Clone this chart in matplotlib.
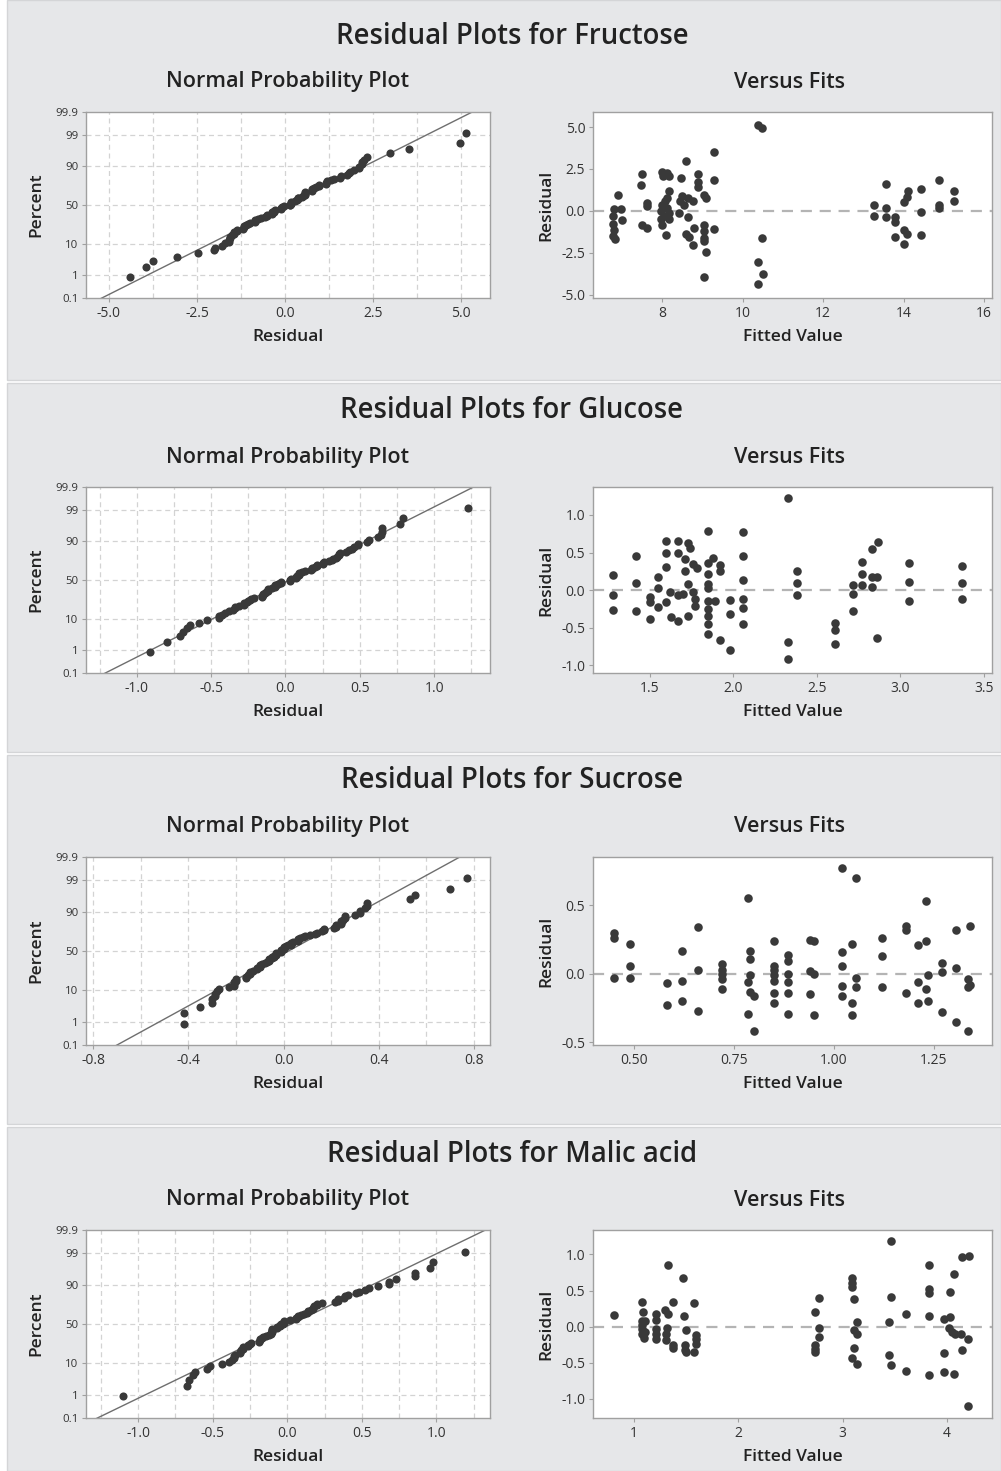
import numpy as np
import matplotlib.pyplot as plt
from matplotlib.patches import Rectangle
from statistics import NormalDist

plt.rcParams['font.family'] = ['Open Sans', 'DejaVu Sans']

# fitted values and residuals for each response
fru_fit = [6.89, 6.81, 6.97, 6.78, 6.99, 6.78, 6.81, 6.78, 6.82,
           7.5, 7.48, 7.62, 7.62, 7.5, 7.62,
           8.0, 8.13, 8.03, 8.17, 8.17, 8.13, 8.06, 8.0, 8.13, 7.96, 8.17, 8.04, 7.96, 8.17, 8.0, 8.1,
           8.46, 8.59, 8.5, 8.63, 8.45, 8.76, 8.55, 8.42, 8.63, 8.78, 8.59, 8.67, 8.76,
           8.88, 8.88, 8.88, 9.05, 9.09, 9.03, 9.05, 9.29, 9.05, 9.03, 9.08, 9.05, 9.29, 9.29,
           10.39, 10.48, 10.48, 10.39, 10.5, 10.39,
           13.27, 13.27, 13.57, 13.57, 13.57, 13.79, 13.79, 13.79, 14.0, 14.08, 14.1,
           14.0, 14.08, 14.0, 14.43, 14.43, 14.43, 14.87, 14.87, 14.87, 15.26, 15.26]
fru_res = [0.96, 0.14, 0.14, -0.31, -0.57, -0.77, -1.16, -1.5, -1.69,
           2.2, 1.56, 0.47, 0.28, -0.85, -1.04,
           2.34, 2.24, 2.1, 2.1, 1.16, 0.77, 0.57, 0.33, 0.18, -0.02, -0.12, -0.31, -0.51, -0.51, -0.85, -1.44,
           1.95, 2.99, 0.87, 0.77, 0.57, 0.57, 0.37, -0.12, -0.37, -1.0, -1.36, -1.56, -2.03,
           2.18, 1.75, 1.4, 0.96, 0.77, -0.85, -1.2, -1.1, -1.6, -1.8, -2.48, -3.96, 3.52, 1.85,
           5.14, 4.96, -1.6, -3.07, -3.76, -4.39,
           0.37, -0.28, 1.59, 0.18, -0.37, -0.37, -0.67, -1.56, 0.51, 0.81, 1.16,
           -1.16, -1.36, -1.99, 1.3, -0.08, -1.46, 1.83, 0.37, 0.18, 1.2, 0.57]

glu_fit = [1.28, 1.28, 1.28, 1.42, 1.42, 1.42, 1.5, 1.5, 1.5, 1.55, 1.55, 1.55,
           1.6, 1.6, 1.6, 1.6, 1.62, 1.63, 1.67, 1.67, 1.67, 1.67, 1.71, 1.71, 1.7,
           1.73, 1.74, 1.73, 1.73, 1.76, 1.78, 1.76, 1.77, 1.77,
           1.85, 1.85, 1.88, 1.85, 1.85, 1.85, 1.85, 1.85, 1.89, 1.85, 1.85, 1.85,
           1.92, 1.92, 1.92, 1.98, 1.98, 1.98, 2.06, 2.06, 2.06, 2.06, 2.06, 2.06,
           2.33, 2.33, 2.33, 2.38, 2.38, 2.38, 2.61, 2.61, 2.61, 2.72, 2.72, 2.72,
           2.77, 2.77, 2.77, 2.83, 2.83, 2.83, 2.87, 2.86, 2.86,
           3.05, 3.05, 3.05, 3.37, 3.37, 3.37]
glu_res = [0.2, -0.07, -0.26, 0.45, 0.09, -0.28, -0.09, -0.16, -0.38, 0.17, 0.03, -0.23,
           0.65, 0.49, 0.31, -0.16, -0.03, -0.35, 0.65, 0.49, -0.07, -0.41, 0.26, 0.41, -0.05,
           0.62, 0.56, 0.08, -0.34, 0.35, 0.29, -0.03, -0.12, -0.21,
           0.79, 0.36, 0.43, 0.21, 0.08, 0.03, -0.15, -0.25, -0.15, -0.34, -0.45, -0.58,
           0.34, 0.25, -0.66, -0.13, -0.31, -0.8, 0.77, 0.46, 0.13, -0.12, -0.24, -0.45,
           1.23, -0.69, -0.91, 0.25, 0.09, -0.07, -0.43, -0.53, -0.71, 0.07, -0.05, -0.28,
           0.37, 0.21, 0.07, 0.55, 0.18, 0.04, 0.64, 0.18, -0.64,
           0.36, 0.11, -0.14, 0.32, 0.09, -0.12]

suc_fit = [0.45, 0.45, 0.45, 0.49, 0.49, 0.49, 0.583, 0.583, 0.62, 0.62, 0.62,
           0.66, 0.66, 0.66, 0.72, 0.72, 0.72, 0.72, 0.72,
           0.786, 0.79, 0.79, 0.79, 0.786, 0.79, 0.8, 0.786, 0.8,
           0.85, 0.85, 0.85, 0.85, 0.85, 0.85, 0.85,
           0.886, 0.886, 0.886, 0.886, 0.886, 0.886,
           0.94, 0.95, 0.94, 0.95, 0.94, 0.95,
           1.02, 1.02, 1.02, 1.02, 1.02, 1.055, 1.047, 1.057, 1.057, 1.047, 1.047,
           1.12, 1.12, 1.12, 1.18, 1.18, 1.18,
           1.23, 1.23, 1.21, 1.236, 1.21, 1.23, 1.21, 1.236,
           1.27, 1.27, 1.27, 1.305, 1.305, 1.305, 1.34, 1.336, 1.34, 1.336, 1.336]
suc_res = [0.30, 0.26, -0.03, 0.22, 0.06, -0.03, -0.07, -0.23, 0.17, -0.05, -0.2,
           0.34, 0.03, -0.27, 0.07, 0.03, 0.0, -0.04, -0.11,
           0.55, 0.17, 0.11, -0.01, -0.06, -0.13, -0.16, -0.29, -0.42,
           0.24, 0.06, 0.03, -0.01, -0.05, -0.14, -0.21,
           0.14, 0.09, 0.0, -0.06, -0.14, -0.29,
           0.25, 0.24, 0.02, 0.0, -0.15, -0.3,
           0.77, 0.16, 0.06, -0.09, -0.16, 0.70, 0.22, -0.03, -0.1, -0.21, -0.3,
           0.26, 0.13, -0.1, 0.35, 0.32, -0.14,
           0.53, 0.24, 0.21, -0.01, -0.06, -0.11, -0.21, -0.2,
           0.08, 0.01, -0.28, 0.32, 0.04, -0.35, 0.35, -0.04, -0.08, -0.1, -0.42]

mal_fit = [0.81, 1.08, 1.09, 1.08, 1.08, 1.08, 1.08, 1.1, 1.11, 1.11,
           1.21, 1.21, 1.21, 1.21, 1.21, 1.3, 1.33, 1.33, 1.32, 1.31, 1.31,
           1.38, 1.38, 1.38, 1.47, 1.48, 1.5, 1.49, 1.49, 1.5, 1.58, 1.6, 1.6, 1.6, 1.58,
           2.77, 2.74, 2.77, 2.77, 2.74, 2.74, 2.74,
           3.09, 3.09, 3.09, 3.11, 3.14, 3.11, 3.14, 3.11, 3.09, 3.14,
           3.46, 3.46, 3.44, 3.44, 3.46, 3.61, 3.61,
           3.83, 3.83, 3.83, 3.83, 3.83, 3.97, 4.03, 4.03, 4.07, 4.14, 4.21,
           4.02, 4.05, 4.08, 4.13, 4.2, 3.97, 4.14, 3.97, 4.07, 4.2]
mal_res = [0.16, 0.34, 0.2, 0.07, 0.02, -0.04, -0.1, -0.16, -0.07, 0.07,
           0.18, 0.09, -0.03, -0.1, -0.18, 0.23, 0.17, 0.86, -0.02, -0.11, -0.19,
           -0.26, -0.3, 0.34, 0.68, 0.14, -0.05, -0.25, -0.32, -0.36, 0.32, -0.12, -0.18, -0.24, -0.35,
           0.39, 0.2, -0.02, -0.14, -0.26, -0.31, -0.36,
           0.68, 0.61, 0.55, 0.38, 0.06, -0.05, -0.1, -0.3, -0.44, -0.52,
           1.19, 0.41, 0.06, -0.39, -0.54, 0.17, -0.62,
           0.86, 0.52, 0.46, 0.14, -0.67, 0.11, 0.13, 0.48, 0.73, 0.96, 0.98,
           -0.02, -0.07, -0.11, -0.1, -0.17, -0.37, -0.32, -0.63, -0.66, -1.1]

names = ['Fructose', 'Glucose', 'Sucrose', 'Malic acid']
fits = [fru_fit, glu_fit, suc_fit, mal_fit]
resids = [fru_res, glu_res, suc_res, mal_res]

# axis settings per row: normal plot x ticks / limits / grid step, versus fits ticks / limits
npp_xticks = [[-5.0, -2.5, 0.0, 2.5, 5.0], [-1.0, -0.5, 0.0, 0.5, 1.0],
              [-0.8, -0.4, 0.0, 0.4, 0.8], [-1.0, -0.5, 0.0, 0.5, 1.0]]
npp_xlim = [(-5.65, 5.82), (-1.342, 1.376), (-0.83, 0.867), (-1.35, 1.36)]
npp_grid = [1.25, 0.25, 0.2, 0.25]
vf_xticks = [[8, 10, 12, 14, 16], [1.5, 2.0, 2.5, 3.0, 3.5],
             [0.50, 0.75, 1.00, 1.25], [1, 2, 3, 4]]
vf_xfmt = ['{:.0f}', '{:.1f}', '{:.2f}', '{:.0f}']
vf_xlim = [(6.28, 16.2), (1.16, 3.55), (0.398, 1.396), (0.61, 4.43)]
vf_yticks = [[-5.0, -2.5, 0.0, 2.5, 5.0], [-1.0, -0.5, 0.0, 0.5, 1.0],
             [-0.5, 0.0, 0.5], [-1.0, -0.5, 0.0, 0.5, 1.0]]
vf_ylim = [(-5.2, 5.9), (-1.1, 1.37), (-0.52, 0.853), (-1.27, 1.34)]

pct_ticks = [0.1, 1, 10, 50, 90, 99, 99.9]
pct_labels = ['0.1', '1', '10', '50', '90', '99', '99.9']

W, H = 1001, 1471
fig = plt.figure(figsize=(W / 100, H / 100), dpi=100, facecolor='white')

# section layout in pixels: band top/bottom, axes top/bottom
sections = [(0, 380), (383, 752), (755, 1124), (1127, 1471)]
axes_top = [112, 487, 857, 1230]
axes_bot = [298, 673, 1045, 1418]

BG = '#e6e7e9'
DOT = '#393939'
nd = NormalDist()


def box(l, t, r, b):
    return [l / W, 1 - b / H, (r - l) / W, (b - t) / H]


def style_axes(ax):
    for s in ax.spines.values():
        s.set_color('#a0a0a0')
        s.set_linewidth(1.0)
    ax.tick_params(colors='#a0a0a0', labelcolor='#333333', length=3, width=0.8, pad=2.5)


for row in range(4):
    top, bot = sections[row]
    fig.patches.append(Rectangle((7 / W, 1 - bot / H), (W - 7) / W, (bot - top) / H,
                                 transform=fig.transFigure, facecolor=BG,
                                 edgecolor='#d4d5d7', linewidth=1.0, zorder=-10))
    t, b = axes_top[row], axes_bot[row]
    fig.text(512 / W, 1 - (t - 76) / H, 'Residual Plots for ' + names[row],
             ha='center', va='center', fontsize=19.8, color='#222222', weight='semibold')
    fig.text(287 / W, 1 - (t - 30) / H, 'Normal Probability Plot', ha='center', va='center',
             fontsize=15.5, color='#222222', weight='semibold')
    fig.text(790 / W, 1 - (t - 30) / H, 'Versus Fits', ha='center', va='center',
             fontsize=15.5, color='#222222', weight='semibold')

    res = np.array(resids[row])
    fit = np.array(fits[row])

    # normal probability plot
    ax = fig.add_axes(box(86, t, 490, b))
    r_sorted = np.sort(res)
    n = len(r_sorted)
    p = (np.arange(1, n + 1) - 0.3) / (n + 0.4)
    z = np.array([nd.inv_cdf(v) for v in p])
    zlo, zhi = nd.inv_cdf(0.001), nd.inv_cdf(0.999)
    mu, sd = res.mean(), res.std(ddof=1)
    zz = np.array([zlo - 0.5, zhi + 0.5])
    ax.plot(mu + sd * zz, zz, color='#6e6e6e', lw=1.0, zorder=2)
    ax.scatter(r_sorted, z, s=34, color=DOT, zorder=3, linewidths=0)
    ax.set_ylim(zlo, zhi)
    ax.set_xlim(*npp_xlim[row])
    yt = [nd.inv_cdf(v / 100) for v in pct_ticks]
    ax.set_yticks(yt)
    ax.set_yticklabels(pct_labels)
    ax.set_xticks(npp_xticks[row])
    ax.set_xticklabels(['{:.1f}'.format(v) for v in npp_xticks[row]])
    step = npp_grid[row]
    gx = np.arange(np.ceil(npp_xlim[row][0] / step), np.floor(npp_xlim[row][1] / step) + 1) * step
    for x in gx:
        ax.axvline(x, color='#d3d3d3', lw=0.9, ls=(0, (4, 3)), zorder=1)
    for y in yt[1:-1]:
        ax.axhline(y, color='#d3d3d3', lw=0.9, ls=(0, (4, 3)), zorder=1)
    style_axes(ax)
    ax.tick_params(axis='y', labelsize=8.2)
    ax.tick_params(axis='x', labelsize=10)
    ax.set_xlabel('Residual', fontsize=12.5, color='#222222', weight='semibold', labelpad=6)
    ax.set_ylabel('Percent', fontsize=12.5, color='#222222', weight='semibold', labelpad=8)

    # residuals versus fitted values
    ax2 = fig.add_axes(box(593, t, 992, b))
    ax2.axhline(0, color='#b4b4b4', lw=1.6, ls=(0, (5, 3.5)), zorder=1)
    ax2.scatter(fit, res, s=38, color=DOT, zorder=3, linewidths=0)
    ax2.set_xlim(*vf_xlim[row])
    ax2.set_ylim(*vf_ylim[row])
    ax2.set_xticks(vf_xticks[row])
    ax2.set_xticklabels([vf_xfmt[row].format(v) for v in vf_xticks[row]])
    ax2.set_yticks(vf_yticks[row])
    ax2.set_yticklabels(['{:.1f}'.format(v) for v in vf_yticks[row]])
    style_axes(ax2)
    ax2.tick_params(labelsize=10)
    ax2.set_xlabel('Fitted Value', fontsize=12.5, color='#222222', weight='semibold', labelpad=6)
    ax2.set_ylabel('Residual', fontsize=12.5, color='#222222', weight='semibold', labelpad=5)

fig.savefig('out.png', dpi=100, facecolor=fig.get_facecolor())
